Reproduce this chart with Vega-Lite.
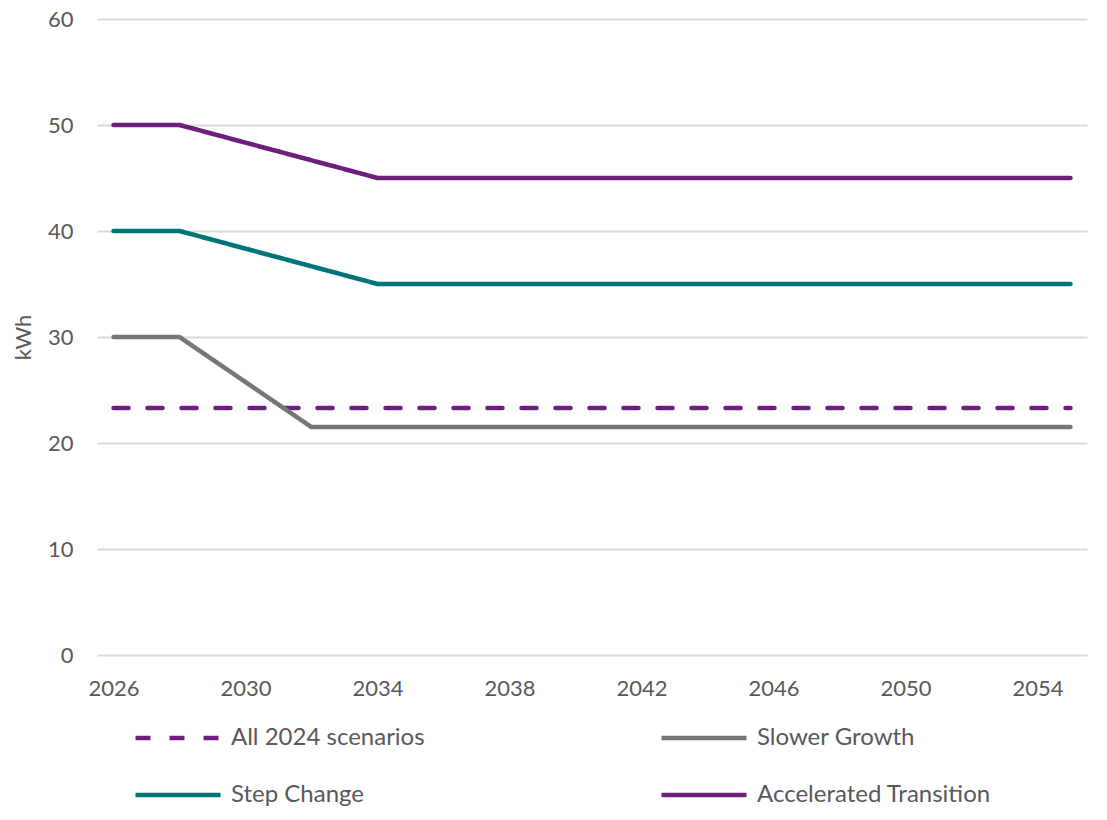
{
  "$schema": "https://vega.github.io/schema/vega-lite/v6.json",
  "width": 990,
  "height": 636,
  "autosize": "none",
  "padding": {"left": 97, "top": 19, "right": 20, "bottom": 165},
  "background": "white",
  "config": {
    "view": {"stroke": null},
    "font": "Lato",
    "axis": {"titleFontSize": 22, "titleFontWeight": "normal", "titleColor": "#595959"}
  },
  "data": {
    "values": [
      {"series": "All 2024 scenarios", "year": 2026, "value": 23.3},
      {"series": "All 2024 scenarios", "year": 2055, "value": 23.3},
      {"series": "Slower Growth", "year": 2026, "value": 30},
      {"series": "Slower Growth", "year": 2028, "value": 30},
      {"series": "Slower Growth", "year": 2032, "value": 21.5},
      {"series": "Slower Growth", "year": 2055, "value": 21.5},
      {"series": "Step Change", "year": 2026, "value": 40},
      {"series": "Step Change", "year": 2028, "value": 40},
      {"series": "Step Change", "year": 2034, "value": 35},
      {"series": "Step Change", "year": 2055, "value": 35},
      {"series": "Accelerated Transition", "year": 2026, "value": 50},
      {"series": "Accelerated Transition", "year": 2028, "value": 50},
      {"series": "Accelerated Transition", "year": 2034, "value": 45},
      {"series": "Accelerated Transition", "year": 2055, "value": 45}
    ]
  },
  "mark": {"type": "line", "strokeWidth": 4.5, "strokeCap": "round", "strokeJoin": "round"},
  "encoding": {
    "x": {
      "field": "year",
      "type": "quantitative",
      "scale": {"domain": [2025.5, 2055.5], "nice": false, "zero": false},
      "axis": {
        "values": [2026, 2030, 2034, 2038, 2042, 2046, 2050, 2054],
        "format": "d",
        "title": null,
        "grid": false,
        "domain": false,
        "ticks": false,
        "labelFont": "Lato",
        "labelFontSize": 22,
        "labelColor": "#595959",
        "labelPadding": 23
      }
    },
    "y": {
      "field": "value",
      "type": "quantitative",
      "title": "kWh",
      "scale": {"domain": [0, 60], "nice": false},
      "axis": {
        "values": [0, 10, 20, 30, 40, 50, 60],
        "titleFont": "Lato",
        "titleFontSize": 22,
        "titleFontWeight": "normal",
        "titleColor": "#595959",
        "titlePadding": 12,
        "grid": true,
        "gridColor": "#D9D9D9",
        "gridWidth": 2,
        "domain": false,
        "ticks": false,
        "labelFont": "Lato",
        "labelFontSize": 22,
        "labelColor": "#595959",
        "labelPadding": 24
      }
    },
    "color": {
      "field": "series",
      "type": "nominal",
      "scale": {
        "domain": ["All 2024 scenarios", "Slower Growth", "Step Change", "Accelerated Transition"],
        "range": ["#6C1F7B", "#76767A", "#007577", "#6C1F7B"]
      },
      "legend": {
        "title": null,
        "orient": "none",
        "legendX": 36,
        "legendY": 674,
        "columns": 2,
        "columnPadding": 227,
        "rowPadding": -2,
        "symbolType": "stroke",
        "symbolSize": 7225,
        "symbolStrokeWidth": 4.5,
        "labelFont": "Lato",
        "labelFontSize": 24,
        "labelColor": "#595959",
        "labelOffset": 8,
        "labelLimit": 500,
        "direction": "horizontal"
      }
    },
    "strokeDash": {
      "field": "series",
      "type": "nominal",
      "scale": {
        "domain": ["All 2024 scenarios", "Slower Growth", "Step Change", "Accelerated Transition"],
        "range": [[15, 19], [1, 0], [1, 0], [1, 0]]
      },
      "legend": null
    }
  }
}
